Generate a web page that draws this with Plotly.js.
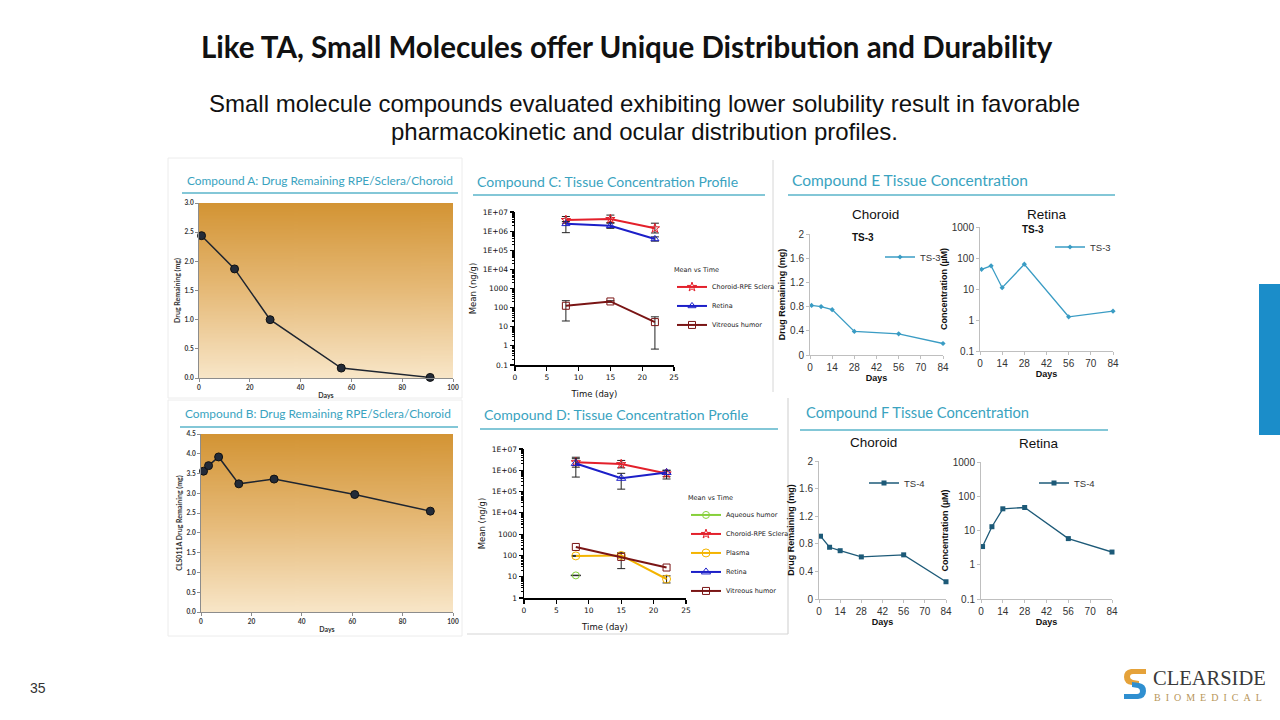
<!DOCTYPE html>
<html><head><meta charset="utf-8">
<script src="https://cdn.plot.ly/plotly-3.0.1.min.js"></script>
<style>html,body{margin:0;padding:0;background:#fff;}#c{width:1280px;height:720px;}</style>
</head><body><div id="c"></div>
<script>
// ---------- DATA ----------
const daysA = [1, 14, 28, 56, 91];
const remainA = [2.44, 1.87, 1.0, 0.17, 0.01];
const daysB = [1, 3, 7, 15, 29, 61, 91];
const remainB = [3.56, 3.70, 3.92, 3.24, 3.36, 2.97, 2.55];

const daysCD = [8, 15, 22];
const cChoroid = [3.8e6, 4.3e6, 1.4e6], cChoroidHi = [5.8e6, 6.9e6, 2.6e6], cChoroidLo = [2.6e6, 2.8e6, 8.0e5];
const cRetina = [2.4e6, 1.9e6, 3.9e5], cRetinaHi = [3.2e6, 2.6e6, 5.0e5], cRetinaLo = [8.3e5, 1.4e6, 3.0e5];
const cVitreous = [125, 210, 17.5], cVitreousHi = [230, 230, 33], cVitreousLo = [20, 190, 0.68];

const dAqueousDays = [8], dAqueous = [11.5], dAqueousHi = [11.8], dAqueousLo = [11.2];
const dChoroid = [2.4e6, 1.95e6, 7.1e5], dChoroidHi = [4.1e6, 2.9e6, 1.0e6], dChoroidLo = [1.4e6, 1.3e6, 5.0e5];
const dPlasma = [95, 100, 7.8], dPlasmaHi = [100, 135, 11], dPlasmaLo = [90, 24, 5.1];
const dRetina = [2.1e6, 4.2e5, 7.9e5], dRetinaHi = [3.5e6, 7.2e5, 1.0e6], dRetinaLo = [4.8e5, 1.3e5, 3.9e5];
const dVitreous = [250, 85, 27];

const daysEF = [1, 7, 14, 28, 56, 84];
const eChoroid = [0.82, 0.80, 0.75, 0.39, 0.35, 0.19];
const eRetina = [43, 56, 11, 63, 1.27, 1.93];
const fChoroid = [0.91, 0.75, 0.70, 0.61, 0.64, 0.25];
const fRetina = [3.4, 12.9, 43, 47, 5.8, 2.35];

const logTicksCD = [0.1, 1, 10, 100, 1000, 1e4, 1e5, 1e6, 1e7];
const logTextCD = ['0.1', '1', '10', '100', '1000', '1E+04', '1E+05', '1E+06', '1E+07'];
const logTicksEF = [0.1, 1, 10, 100, 1000];
const logTextEF = ['0.1', '1', '10', '100', '1000'];
const ticksEFx = [0, 14, 28, 42, 56, 70, 84];

// ---------- HELPERS ----------
const W = 1280, H = 720;
const dx = (a, b) => [a / W, b / W];
const dy = (t, b) => [1 - b / H, 1 - t / H];
const px = x => x / W, py = y => 1 - y / H;
const hi = (m, h) => h.map((v, i) => Math.max(0, v - m[i]));
const lo = (m, l) => l.map((v, i) => Math.max(0, m[i] - v));

function gradientURL() {
  const c = document.createElement('canvas'); c.width = 4; c.height = 256;
  const g = c.getContext('2d');
  const gr = g.createLinearGradient(0, 0, 0, 256);
  gr.addColorStop(0, '#d39434'); gr.addColorStop(0.5, '#e6ba78'); gr.addColorStop(1, '#f8e6c8');
  g.fillStyle = gr; g.fillRect(0, 0, 4, 256);
  return c.toDataURL();
}
const grad = gradientURL();

// ---------- TRACES ----------
const abMarker = {size: 8, color: '#232b38', line: {color: '#111', width: 1}};
const errStyle = {type: 'data', symmetric: false, color: '#222', thickness: 1, width: 4};
const red = '#e3202b', blue = '#1c1fc8', maroon = '#7a1515', orange = '#f4b400', green = '#86d03a';
const eCol = '#3a9cc4', fCol = '#1d5a78';

const traces = [
  {x: daysA, y: remainA, xaxis: 'x', yaxis: 'y', mode: 'lines+markers', line: {color: '#1e2530', width: 1.5}, marker: abMarker, showlegend: false, cliponaxis: false},
  {x: daysB, y: remainB, xaxis: 'x2', yaxis: 'y2', mode: 'lines+markers', line: {color: '#1e2530', width: 1.5}, marker: abMarker, showlegend: false, cliponaxis: false},

  {x: daysCD, y: cChoroid, xaxis: 'x3', yaxis: 'y3', name: 'Choroid-RPE Sclera', legend: 'legend', mode: 'lines+markers',
   line: {color: red, width: 2}, marker: {symbol: 'star-open', size: 7, color: red},
   error_y: Object.assign({array: hi(cChoroid, cChoroidHi), arrayminus: lo(cChoroid, cChoroidLo)}, errStyle), cliponaxis: false},
  {x: daysCD, y: cRetina, xaxis: 'x3', yaxis: 'y3', name: 'Retina', legend: 'legend', mode: 'lines+markers',
   line: {color: blue, width: 2}, marker: {symbol: 'triangle-up-open', size: 7, color: blue},
   error_y: Object.assign({array: hi(cRetina, cRetinaHi), arrayminus: lo(cRetina, cRetinaLo)}, errStyle), cliponaxis: false},
  {x: daysCD, y: cVitreous, xaxis: 'x3', yaxis: 'y3', name: 'Vitreous humor', legend: 'legend', mode: 'lines+markers',
   line: {color: maroon, width: 2}, marker: {symbol: 'square-open', size: 7, color: maroon},
   error_y: Object.assign({array: hi(cVitreous, cVitreousHi), arrayminus: lo(cVitreous, cVitreousLo)}, errStyle), cliponaxis: false},

  {x: dAqueousDays, y: dAqueous, xaxis: 'x4', yaxis: 'y4', name: 'Aqueous humor', legend: 'legend2', mode: 'lines+markers',
   line: {color: green, width: 2}, marker: {symbol: 'circle-open', size: 7, color: green},
   error_y: Object.assign({array: hi(dAqueous, dAqueousHi), arrayminus: lo(dAqueous, dAqueousLo)}, errStyle, {width: 5}), cliponaxis: false},
  {x: daysCD, y: dChoroid, xaxis: 'x4', yaxis: 'y4', name: 'Choroid-RPE Sclera', legend: 'legend2', mode: 'lines+markers',
   line: {color: red, width: 2}, marker: {symbol: 'star-open', size: 7, color: red},
   error_y: Object.assign({array: hi(dChoroid, dChoroidHi), arrayminus: lo(dChoroid, dChoroidLo)}, errStyle), cliponaxis: false},
  {x: daysCD, y: dPlasma, xaxis: 'x4', yaxis: 'y4', name: 'Plasma', legend: 'legend2', mode: 'lines+markers',
   line: {color: orange, width: 2}, marker: {symbol: 'circle-open', size: 8, color: orange},
   error_y: Object.assign({array: hi(dPlasma, dPlasmaHi), arrayminus: lo(dPlasma, dPlasmaLo)}, errStyle), cliponaxis: false},
  {x: daysCD, y: dRetina, xaxis: 'x4', yaxis: 'y4', name: 'Retina', legend: 'legend2', mode: 'lines+markers',
   line: {color: blue, width: 2}, marker: {symbol: 'triangle-up-open', size: 8, color: blue},
   error_y: Object.assign({array: hi(dRetina, dRetinaHi), arrayminus: lo(dRetina, dRetinaLo)}, errStyle), cliponaxis: false},
  {x: daysCD, y: dVitreous, xaxis: 'x4', yaxis: 'y4', name: 'Vitreous humor', legend: 'legend2', mode: 'lines+markers',
   line: {color: maroon, width: 2}, marker: {symbol: 'square-open', size: 7, color: maroon}, cliponaxis: false},

  {x: daysEF, y: eChoroid, xaxis: 'x5', yaxis: 'y5', name: 'TS-3', legend: 'legend3', mode: 'lines+markers',
   line: {color: eCol, width: 1.3}, marker: {symbol: 'diamond', size: 4, color: eCol}, cliponaxis: false},
  {x: daysEF, y: eRetina, xaxis: 'x6', yaxis: 'y6', name: 'TS-3', legend: 'legend4', mode: 'lines+markers',
   line: {color: eCol, width: 1.3}, marker: {symbol: 'diamond', size: 4, color: eCol}, cliponaxis: false},
  {x: daysEF, y: fChoroid, xaxis: 'x7', yaxis: 'y7', name: 'TS-4', legend: 'legend5', mode: 'lines+markers',
   line: {color: fCol, width: 1.3}, marker: {symbol: 'square', size: 5, color: fCol}, cliponaxis: false},
  {x: daysEF, y: fRetina, xaxis: 'x8', yaxis: 'y8', name: 'TS-4', legend: 'legend6', mode: 'lines+markers',
   line: {color: fCol, width: 1.3}, marker: {symbol: 'square', size: 5, color: fCol}, cliponaxis: false}
];

// ---------- AXES ----------
const abFont = {family: 'Lato', size: 6.5, color: '#333', weight: 'bold'};
const abTitle = {family: 'Lato', size: 7, color: '#333', weight: 'bold'};
const baseAB = {showline: true, linecolor: '#8c8c8c', linewidth: 1, ticks: 'outside', ticklen: 3, tickcolor: '#8c8c8c',
  showgrid: false, zeroline: false, tickfont: abFont};
const cdFont = {family: 'DejaVu Sans', size: 7.5, color: '#111'};
const cdTitle = {family: 'DejaVu Sans', size: 8.5, color: '#111'};
const baseCD = {showline: true, linecolor: '#000', linewidth: 1.5, ticks: 'outside', ticklen: 4, tickcolor: '#000', tickwidth: 1.2,
  showgrid: false, zeroline: false, tickfont: cdFont};
const efFont = {family: 'Liberation Sans', size: 10, color: '#333'};
const efTitle = {family: 'Liberation Sans', size: 9, color: '#111', weight: 'bold'};
const baseEF = {showline: true, linecolor: '#bfbfbf', linewidth: 1, ticks: 'outside', ticklen: 3, tickcolor: '#bfbfbf',
  showgrid: false, zeroline: false, tickfont: efFont};
const efX = dom => Object.assign({}, baseEF, {domain: dom, range: [0, 84], tickmode: 'array', tickvals: ticksEFx,
  title: {text: 'Days', font: efTitle, standoff: 2}});
const legSmall = {family: 'DejaVu Sans', size: 6.5, color: '#222'};
const legTS = {family: 'Liberation Sans', size: 9.5, color: '#333'};

const layout = {
  width: W, height: H, margin: {l: 0, r: 0, t: 0, b: 0},
  paper_bgcolor: '#fff', plot_bgcolor: 'rgba(0,0,0,0)',
  font: {family: 'Liberation Sans'},
  xaxis: Object.assign({}, baseAB, {domain: dx(199, 453), anchor: 'y', range: [0, 100], dtick: 20,
    title: {text: 'Days', font: abTitle, standoff: 3}}),
  yaxis: Object.assign({}, baseAB, {domain: dy(203, 378), anchor: 'x', range: [0, 3], dtick: 0.5, tickformat: '.1f',
    title: {text: 'Drug Remaining (mg)', font: abTitle, standoff: 3}}),
  xaxis2: Object.assign({}, baseAB, {domain: dx(201, 453), anchor: 'y2', range: [0, 100], dtick: 20,
    title: {text: 'Days', font: abTitle, standoff: 3}}),
  yaxis2: Object.assign({}, baseAB, {domain: dy(434, 612), anchor: 'x2', range: [0, 4.5], dtick: 0.5, tickformat: '.1f',
    title: {text: 'CLS011A Drug Remaining (mg)', font: abTitle, standoff: 3}}),

  xaxis3: Object.assign({}, baseCD, {domain: dx(515, 674), anchor: 'y3', range: [0, 25], dtick: 5,
    title: {text: 'Time (day)', font: cdTitle, standoff: 10}}),
  yaxis3: Object.assign({}, baseCD, {domain: dy(212, 365), anchor: 'x3', type: 'log', range: [-1, 7],
    tickmode: 'array', tickvals: logTicksCD, ticktext: logTextCD,
    minor: {ticks: 'outside', ticklen: 2, tickcolor: '#000', dtick: 'D1'},
    title: {text: 'Mean (ng/g)', font: cdTitle, standoff: 4}}),
  xaxis4: Object.assign({}, baseCD, {domain: dx(524, 686), anchor: 'y4', range: [0, 25], dtick: 5,
    title: {text: 'Time (day)', font: cdTitle, standoff: 10}}),
  yaxis4: Object.assign({}, baseCD, {domain: dy(449, 598), anchor: 'x4', type: 'log', range: [0, 7],
    tickmode: 'array', tickvals: logTicksCD.slice(1), ticktext: logTextCD.slice(1),
    minor: {ticks: 'outside', ticklen: 2, tickcolor: '#000', dtick: 'D1'},
    title: {text: 'Mean (ng/g)', font: cdTitle, standoff: 4}}),

  xaxis5: Object.assign(efX(dx(810, 943)), {anchor: 'y5'}),
  yaxis5: Object.assign({}, baseEF, {domain: dy(234, 355), anchor: 'x5', range: [0, 2], dtick: 0.4,
    title: {text: 'Drug Remaining (mg)', font: efTitle, standoff: 2}}),
  xaxis6: Object.assign(efX(dx(980, 1113)), {anchor: 'y6'}),
  yaxis6: Object.assign({}, baseEF, {domain: dy(227, 351), anchor: 'x6', type: 'log', range: [-1, 3],
    tickmode: 'array', tickvals: logTicksEF, ticktext: logTextEF,
    title: {text: 'Concentration (µM)', font: efTitle, standoff: 2}}),
  xaxis7: Object.assign(efX(dx(819, 946)), {anchor: 'y7'}),
  yaxis7: Object.assign({}, baseEF, {domain: dy(461, 599), anchor: 'x7', range: [0, 2], dtick: 0.4,
    title: {text: 'Drug Remaining (mg)', font: efTitle, standoff: 2}}),
  xaxis8: Object.assign(efX(dx(981, 1112)), {anchor: 'y8'}),
  yaxis8: Object.assign({}, baseEF, {domain: dy(462, 599), anchor: 'x8', type: 'log', range: [-1, 3],
    tickmode: 'array', tickvals: logTicksEF, ticktext: logTextEF,
    title: {text: 'Concentration (µM)', font: efTitle, standoff: 2}}),

  legend: {x: px(672), y: py(264), xanchor: 'left', yanchor: 'top', bgcolor: 'rgba(0,0,0,0)',
    font: legSmall, itemwidth: 30, tracegroupgap: 0,
    title: {text: 'Mean vs Time', side: 'top', font: legSmall}},
  legend2: {x: px(686), y: py(492), xanchor: 'left', yanchor: 'top', bgcolor: 'rgba(0,0,0,0)',
    font: legSmall, itemwidth: 30, tracegroupgap: 0,
    title: {text: 'Mean vs Time', side: 'top', font: legSmall}},
  legend3: {x: px(880), y: py(257), xanchor: 'left', yanchor: 'middle', bgcolor: 'rgba(0,0,0,0)', font: legTS, itemwidth: 30},
  legend4: {x: px(1050), y: py(247), xanchor: 'left', yanchor: 'middle', bgcolor: 'rgba(0,0,0,0)', font: legTS, itemwidth: 30},
  legend5: {x: px(864), y: py(483), xanchor: 'left', yanchor: 'middle', bgcolor: 'rgba(0,0,0,0)', font: legTS, itemwidth: 30},
  legend6: {x: px(1034), y: py(483), xanchor: 'left', yanchor: 'middle', bgcolor: 'rgba(0,0,0,0)', font: legTS, itemwidth: 30},

  images: [
    {source: grad, xref: 'x domain', yref: 'y domain', x: 0, y: 1, sizex: 1, sizey: 1, sizing: 'stretch', layer: 'below', xanchor: 'left', yanchor: 'top'},
    {source: grad, xref: 'x2 domain', yref: 'y2 domain', x: 0, y: 1, sizex: 1, sizey: 1, sizing: 'stretch', layer: 'below', xanchor: 'left', yanchor: 'top'}
  ],
  annotations: [],
  shapes: []
};

// ---------- TEXT ----------
const teal = '#3aa3c0';
function ann(text, x, y, font, xanchor) {
  layout.annotations.push({text: text, x: px(x), y: py(y), xref: 'paper', yref: 'paper', showarrow: false,
    xanchor: xanchor || 'left', yanchor: 'middle', font: font, align: 'center'});
}
ann('<b>Like TA, Small Molecules offer Unique Distribution and Durability</b>', 627, 47, {family: 'Lato', size: 29.5, color: '#111'}, 'center');
ann('Small molecule compounds evaluated exhibiting lower solubility result in favorable', 644, 104, {family: 'Liberation Sans', size: 24, color: '#111'}, 'center');
ann('pharmacokinetic and ocular distribution profiles.', 644, 131, {family: 'Liberation Sans', size: 24, color: '#111'}, 'center');
ann('Compound A: Drug Remaining RPE/Sclera/Choroid', 185, 180, {family: 'Lato', size: 11.9, color: teal});
ann('Compound B: Drug Remaining RPE/Sclera/Choroid', 183, 414, {family: 'Lato', size: 11.9, color: teal});
ann('Compound C: Tissue Concentration Profile', 475, 181, {family: 'Lato', size: 14, color: teal});
ann('Compound D: Tissue Concentration Profile', 482, 415, {family: 'Lato', size: 14.1, color: teal});
ann('Compound E Tissue Concentration', 790, 180, {family: 'Lato', size: 15.5, color: teal});
ann('Compound F Tissue Concentration', 804, 412, {family: 'Lato', size: 14.7, color: teal});
ann('Choroid', 875, 214, {family: 'Liberation Sans', size: 13.5, color: '#111'}, 'center');
ann('<b>TS-3</b>', 863, 238, {family: 'Liberation Sans', size: 10, color: '#111'}, 'center');
ann('Retina', 1047, 214, {family: 'Liberation Sans', size: 13.5, color: '#111'}, 'center');
ann('<b>TS-3</b>', 1033, 229, {family: 'Liberation Sans', size: 10, color: '#111'}, 'center');
ann('Choroid', 873, 442, {family: 'Liberation Sans', size: 13.5, color: '#111'}, 'center');
ann('Retina', 1039, 443, {family: 'Liberation Sans', size: 13.5, color: '#111'}, 'center');
ann('35', 38, 688, {family: 'Liberation Sans', size: 14, color: '#333'}, 'center');
ann('CLEARSIDE', 1209, 678, {family: 'Liberation Serif', size: 20.5, color: '#3a3a3a'}, 'center');
ann('B\u2002I\u2002O\u2002M\u2002E\u2002D\u2002I\u2002C\u2002A\u2002L', 1208, 697, {family: 'Liberation Serif', size: 10, color: '#b8965a'}, 'center');

// ---------- DECORATION ----------
function line(x0, y0, x1, y1, color, w) {
  layout.shapes.push({type: 'line', xref: 'paper', yref: 'paper', x0: px(x0), y0: py(y0), x1: px(x1), y1: py(y1), line: {color: color, width: w}});
}
function rect(x0, y0, x1, y1, fill, lc) {
  layout.shapes.push({type: 'rect', xref: 'paper', yref: 'paper', x0: px(x0), y0: py(y0), x1: px(x1), y1: py(y1),
    fillcolor: fill, line: {color: lc || 'rgba(0,0,0,0)', width: lc ? 1 : 0}, layer: 'below'});
}
function path(pts, fill) {
  let d = '';
  pts.forEach(p => { d += p[0] + ' ' + p.slice(1).map((v, i) => (i % 2 === 0 ? px(v) : py(v)).toFixed(5)).join(',') + ' '; });
  layout.shapes.push({type: 'path', xref: 'paper', yref: 'paper', path: d + 'Z', fillcolor: fill, line: {width: 0}});
}
const ul = '#5ab5ca';
line(182, 193, 458, 193, ul, 1.5);
line(180, 427, 458, 427, ul, 1.5);
line(473, 195, 765, 195, ul, 1.5);
line(480, 429, 778, 429, ul, 1.5);
line(788, 195, 1115, 195, ul, 1.5);
line(800, 430, 1108, 430, ul, 1.5);
rect(168, 158, 462, 398, 'rgba(0,0,0,0)', '#ececec');
rect(168, 400, 462, 636, 'rgba(0,0,0,0)', '#ececec');
line(773, 160, 773, 392, '#d6d6d6', 1);
line(788, 398, 788, 634, '#d6d6d6', 1.2);
line(467, 634, 788, 634, '#d6d6d6', 1.2);
rect(1259, 284, 1280, 435, '#1b8dc9');
// logo mark
path([['M', 1146, 669], ['L', 1131, 669], ['Q', 1124, 670, 1124, 677], ['Q', 1124, 684, 1132, 685], ['L', 1139, 686], ['L', 1139, 681], ['L', 1133, 680], ['Q', 1130, 679, 1130, 677], ['Q', 1130, 674, 1133, 674], ['L', 1146, 674]], '#e5a23a');
path([['M', 1124, 699], ['L', 1138, 699], ['Q', 1146, 698, 1146, 691], ['Q', 1146, 684, 1139, 683], ['L', 1132, 682], ['L', 1132, 687], ['L', 1138, 688], ['Q', 1140, 689, 1140, 691], ['Q', 1140, 694, 1137, 694], ['L', 1124, 694]], '#2f8fd0');

Plotly.newPlot('c', traces, layout, {displayModeBar: false, staticPlot: true});
</script></body></html>
